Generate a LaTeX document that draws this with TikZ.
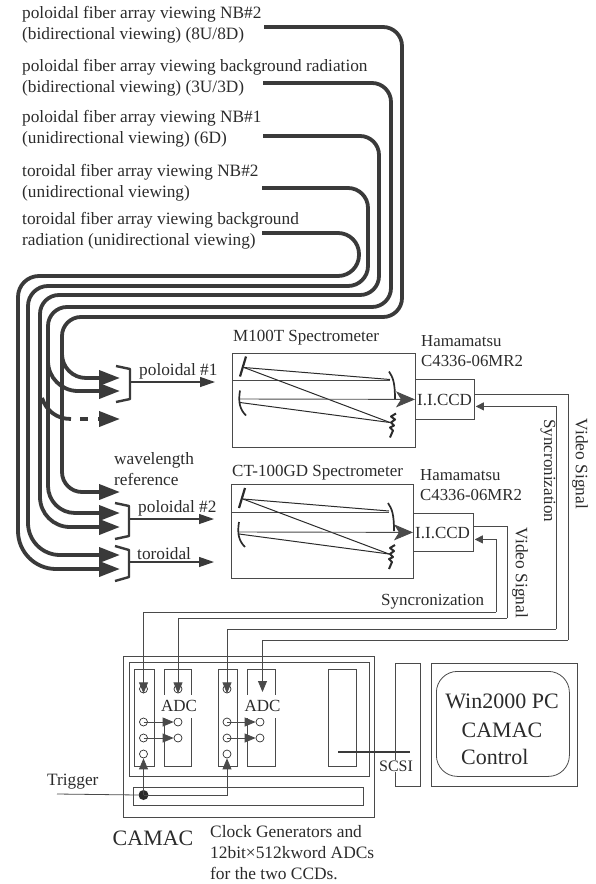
\documentclass[tikz,border=0pt]{standalone}
\usepackage{fontspec}
\setmainfont{Liberation Serif}
\usetikzlibrary{arrows.meta}
\definecolor{ink}{HTML}{2B2B2B}
\definecolor{fibercol}{HTML}{3A3A3A}
\definecolor{wirecol}{HTML}{4A4A4A}
\newcommand{\fs}[1]{\fontsize{#1}{#1}\selectfont}
\tikzset{
  lab/.style={font=\fontsize{17.3}{20.5}\selectfont,text=ink,inner sep=0pt,anchor=west,align=left},
  biglab/.style={font=\fs{22},text=ink,inner sep=0pt},
  vert/.style={font=\fs{17.4},text=ink,inner sep=0pt,rotate=-90},
  fiber/.style={draw=fibercol,line width=3.8pt,line join=round},
  fiberarrow/.style={fiber,-{Triangle[length=21pt,width=15pt]}},
  bracketline/.style={draw=fibercol,line width=2.4pt,line join=round},
  outarrow/.style={draw=fibercol,line width=1.2pt,-{Triangle[length=15pt,width=10pt]}},
  box/.style={draw=wirecol,line width=0.8pt,inner sep=0pt,anchor=north west},
  wire/.style={draw=wirecol,line width=0.8pt},
  wirearrow/.style={wire,-{Triangle[length=11pt,width=9pt]}},
  ccdarrow/.style={wire,-{Triangle[length=8pt,width=8pt]}},
  hole/.style={circle,draw=ink,line width=0.7pt,minimum size=8pt,inner sep=0pt},
  adclab/.style={font=\fs{17},text=ink,fill=white,inner sep=0pt,minimum height=23pt},
  spectro/.pic={
    \draw[draw=wirecol,line width=0.8pt] (0,28) -- (158,28);
    \draw[draw=ink,line width=2.2pt] (14,4) -- (8,24);
    \draw[draw=ink,line width=1pt] (12,15) -- (158,27);
    \draw[draw=ink,line width=1pt] (12,15) -- (158,70);
    \draw[draw=ink,line width=1pt] (8,50) -- (158,70);
    \draw[draw=ink,line width=1.7pt] (157,19) .. controls (161,25) and (163,30) .. (163,47);
    \draw[draw=ink,line width=1.7pt] (8,38) .. controls (6,50) and (8,57) .. (14,63);
    \draw[draw=ink,line width=2pt,line join=round] (164,61) -- (159,64) -- (163,67) -- (159,70) -- (162,73) -- (158,75) -- (161,78) -- (158,85);
  }
}
\begin{document}
\begin{tikzpicture}[x=1pt,y=-1pt]
\useasboundingbox (0,0) rectangle (595,884);
% top labels
\node[lab] (t1) at (22,25) {poloidal fiber array viewing NB\#2\\(bidirectional viewing) (8U/8D)};
\node[lab] (t2) at (22,78) {poloidal fiber array viewing background radiation\\(bidirectional viewing) (3U/3D)};
\node[lab] (t3) at (22,129) {poloidal fiber array viewing NB\#1\\(unidirectional viewing) (6D)};
\node[lab] (t4) at (22,183) {toroidal fiber array viewing NB\#2\\(unidirectional viewing)};
\node[lab] (t5) at (22,231) {toroidal fiber array viewing background\\radiation (unidirectional viewing)};
% fibre start points and receiving points
\coordinate (e0) at (264,27);
\coordinate (d0) at (263,83);
\coordinate (c0) at (263,136);
\coordinate (b0) at (262,188);
\coordinate (a0) at (262,233);
\coordinate (r1) at (120,378);
\coordinate (r2) at (120,391);
\coordinate (wl) at (120,492);
\coordinate (r3) at (120,513);
\coordinate (r4) at (120,527);
\coordinate (r5) at (120,555);
\coordinate (r6) at (120,569);
% fibres
\draw[fiberarrow,rounded corners=19pt] (e0) -- (402,27) -- (402,317) -- (62,317) [rounded corners=20pt] -- (62,492) -- (wl);
\draw[fiberarrow,rounded corners=19pt] (d0) -- (391,83) -- (391,307) -- (48,307) [rounded corners=27pt] -- (48,513) -- (r3);
\draw[fiberarrow,rounded corners=19pt] (c0) -- (379,136) -- (379,295) -- (40,295) [rounded corners=30pt] -- (40,527) -- (r4);
\draw[fiberarrow,rounded corners=20pt] (b0) -- (368,188) -- (368,286) -- (28,286) [rounded corners=32pt] -- (28,555) -- (r5);
\draw[fiberarrow,rounded corners=21pt] (a0) -- (359,233) -- (359,276) -- (18,276) [rounded corners=38pt] -- (18,569) -- (r6);
% fibre branches
\draw[fiberarrow,rounded corners=24pt] (62,340) -- (62,378) -- (r1);
\draw[fiberarrow,rounded corners=30pt] (48,350) -- (48,391) -- (r2);
\coordinate (b3s) at (42,398);
\coordinate (b3e) at (71,419);
\draw[fiber] (b3s) .. controls (46,410) and (56,419) .. (b3e);
\coordinate (d1) at (80,419);
\coordinate (d2) at (88,419);
\draw[fiber] (d1) -- (d2);
\coordinate (d3) at (98,419);
\coordinate (d4) at (120,419);
\draw[fiberarrow] (d3) -- (d4);
% brackets
\coordinate (k1) at (130,382);
\coordinate (k2) at (129,519);
\coordinate (k3) at (129,562);
\coordinate (o1) at (215,382);
\coordinate (o2) at (214,519);
\coordinate (o3) at (214,562);
\draw[bracketline] (116,366) -- (130,369) -- (130,399) -- (116,402);
\draw[bracketline] (115,503) -- (129,506) -- (129,536) -- (115,539);
\draw[bracketline] (115,546) -- (129,550) -- (129,577) -- (115,581);
\draw[outarrow] (k1) -- (o1);
\draw[outarrow] (k2) -- (o2);
\draw[outarrow] (k3) -- (o3);
\node[lab] (p1) at (139,371) {poloidal \#1};
\node[lab] (p2) at (138,508) {poloidal \#2};
\node[lab] (p3) at (137,554) {toroidal};
\node[lab] (wref) at (114,469) {wavelength\\reference};
% spectrometers
\node[box,minimum width=183pt,minimum height=94pt] (s1) at (232,352.5) {};
\node[box,minimum width=182pt,minimum height=94pt] (s2) at (231,484) {};
\pic at (s1.north west) {spectro};
\pic at (s2.north west) {spectro};
\node[box,minimum width=59pt,minimum height=40pt] (ccd1) at (415,379) {};
\node[box,minimum width=60pt,minimum height=38pt] (ccd2) at (413,513) {};
\node[lab,font=\fs{17}] (ccdt1) at (417,400) {I.I.CCD};
\node[lab,font=\fs{17}] (ccdt2) at (415,533) {I.I.CCD};
\coordinate (ax1) at (240,399);
\coordinate (ax2) at (239,532);
\draw[draw=wirecol,line width=0.9pt,-{Stealth[length=19pt,width=16pt,inset=5pt]}] (ax1) -- (ccd1.west);
\draw[draw=wirecol,line width=0.9pt,-{Stealth[length=19pt,width=16pt,inset=5pt]}] (ax2) -- (ccd2.west);
\node[lab,font=\fs{17}] (m100) at (233,338) {M100T Spectrometer};
\node[lab,font=\fs{17}] (ct100) at (232,473) {CT-100GD Spectrometer};
\node[lab,font=\fontsize{16.8}{20.5}\selectfont] (h1) at (421,351) {Hamamatsu\\C4336-06MR2};
\node[lab,font=\fontsize{16.8}{20.5}\selectfont] (h2) at (420,485) {Hamamatsu\\C4336-06MR2};
% CAMAC
\node[box,minimum width=251pt,minimum height=161pt] (crate) at (123,656) {};
\node[box,minimum width=240pt,minimum height=114pt] (inner) at (129,662) {};
\node[box,minimum width=20pt,minimum height=97pt] (m1) at (134,669) {};
\node[box,minimum width=27pt,minimum height=97pt] (a1) at (164,669) {};
\node[box,minimum width=19pt,minimum height=97pt] (m3) at (218,669) {};
\node[box,minimum width=28pt,minimum height=97pt] (a2) at (247,669) {};
\node[box,minimum width=28pt,minimum height=97pt] (m5) at (328,669) {};
\node[box,minimum width=230pt,minimum height=18pt] (bar) at (133,787) {};
\node[box,minimum width=25pt,minimum height=123pt] (scsibox) at (395,663) {};
\node[box,minimum width=146pt,minimum height=123pt] (pc) at (430.5,663) {};
\node[box,rounded corners=21pt,minimum width=133pt,minimum height=105pt] (pcin) at (436,671) {};
\node[biglab] (w1) at (502,701) {Win2000 PC};
\node[biglab] (w2) at (502,730) {CAMAC};
\node[biglab,anchor=west] (w3) at (461,757) {Control};
% circles
\node[hole] (c1a) at (143.5,689) {};
\node[hole] (c1b) at (143.5,722) {};
\node[hole] (c1c) at (143.5,738) {};
\node[hole] (c1d) at (143.5,754) {};
\node[hole] (d1a) at (178,689) {};
\node[hole] (d1b) at (178,722) {};
\node[hole] (d1c) at (178,738) {};
\node[hole] (c3a) at (227,689) {};
\node[hole] (c3b) at (227,722) {};
\node[hole] (c3c) at (227,738) {};
\node[hole] (c3d) at (227,754) {};
\node[hole] (d2b) at (260,722) {};
\node[hole] (d2c) at (260,738) {};
\node[adclab] (adc1) at (179,706) {ADC};
\node[adclab] (adc2) at (262.5,706) {ADC};
\draw[wirearrow] (c1b.center) -- (d1b.west);
\draw[wirearrow] (c1c.center) -- (d1c.west);
\draw[wirearrow] (c3b.center) -- (d2b.west);
\draw[wirearrow] (c3c.center) -- (d2c.west);
% signals
\coordinate (vid1) at (568,640);
\coordinate (syn1) at (556,629);
\coordinate (vid2) at (507,618);
\coordinate (syn2) at (496,612);
\coordinate (adc2in) at (262.5,692);
\draw[wire] ([yshift=5pt]ccd1.east) -| (vid1);
\draw[wirearrow] (vid1) -| (adc2in);
\draw[ccdarrow] (syn1) |- ([yshift=-7pt,xshift=1pt]ccd1.east);
\draw[wirearrow] (syn1) -| (c3a.south);
\draw[wire] ([yshift=6pt]ccd2.east) -| (vid2);
\draw[wirearrow] (vid2) -| (d1a.south);
\draw[ccdarrow] (syn2) |- ([yshift=-7pt,xshift=1pt]ccd2.east);
\draw[wirearrow] (syn2) -| (c1a.south);
% trigger
\node[circle,fill=ink,minimum size=10pt,inner sep=0pt] (dot) at (143.5,795) {};
\node[lab] (trig) at (47,782) {Trigger};
\coordinate (trigin) at (57,794);
\draw[wire] (trigin) -- (dot.west);
\draw[wirearrow] (dot.center) -- (c1d.south);
\draw[wirearrow] (dot.center) -| (c3d.south);
% scsi
\coordinate (sc1) at (338,752);
\coordinate (sc2) at (410,752);
\draw[draw=fibercol,line width=2.4pt] (sc1) -- (sc2);
\node[font=\fs{16},text=ink,fill=white,inner sep=1pt] (scsi) at (396,766) {SCSI};
% lower and side labels
\node[biglab,anchor=west] (cam) at (112.5,838) {CAMAC};
\node[lab,font=\fontsize{17.4}{21}\selectfont] (clock) at (210,853) {Clock Generators and\\12bit×512kword ADCs\\for the two CCDs.};
\node[vert] (vs1) at (580,464) {Video Signal};
\node[vert,font=\fs{17}] (sy1) at (548,471) {Syncronization};
\node[vert] (vs2) at (520,573) {Video Signal};
\node[lab,font=\fs{17}] (sy2) at (381,602) {Syncronization};
\end{tikzpicture}
\end{document}
